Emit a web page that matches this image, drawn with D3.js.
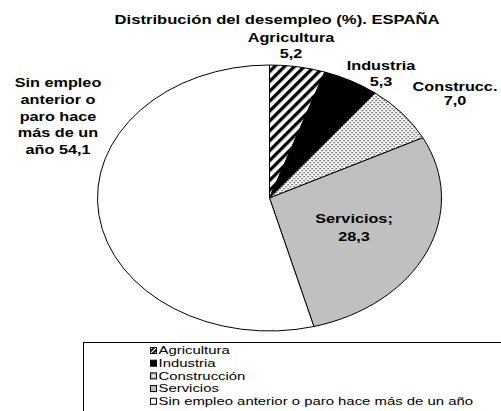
<!DOCTYPE html>
<html>
<head>
<meta charset="utf-8">
<script src="https://cdn.jsdelivr.net/npm/d3@7"></script>
<style>
  body { margin: 0; background: #fff; }
  svg { display: block; font-family: "Liberation Sans", Arial, sans-serif; }
</style>
</head>
<body>
<script>
const categories = ['Agricultura', 'Industria', 'Construcción', 'Servicios', 'Sin empleo anterior o paro hace más de un año'];
const values = [5.2, 5.3, 7.0, 28.3, 54.1];
const sliceLabels = [
    ['Agricultura', '5,2'],
    ['Industria', '5,3'],
    ['Construcc.', '7,0'],
    ['Servicios;', '28,3'],
    ['Sin empleo', 'anterior o', 'paro hace', 'más de un', 'año 54,1']
];
const fills = ['url(#stripes)', '#000000', 'url(#dots)', '#C0C0C0', '#FFFFFF'];

const width = 501;
const height = 411;
const cx = 269.5;
const cy = 198;
const rx = 172;
const ry = 133;
// the original picture is stretched sideways, text included
const stretch = 1.25;

// label anchor positions (centre x, first baseline y, line step, font size)
const labelPos = [
    { x: 291, y: 42, dy: 16, size: 13 },
    { x: 381, y: 70, dy: 16, size: 13 },
    { x: 455, y: 91, dy: 14, size: 12.2 },
    { x: 354, y: 223, dy: 18, size: 13 },
    { x: 58, y: 87, dy: 16.8, size: 13 }
];

const svg = d3.select('body')
  .append('svg')
    .attr('width', width)
    .attr('height', height);

const defs = svg.append('defs');

const stripes = defs.append('pattern')
    .attr('id', 'stripes')
    .attr('patternUnits', 'userSpaceOnUse')
    .attr('width', 7)
    .attr('height', 7)
    .attr('patternTransform', `scale(1, ${rx / ry}) rotate(45)`);
stripes.append('rect').attr('width', 7).attr('height', 7).attr('fill', '#fff');
stripes.append('rect').attr('width', 3.3).attr('height', 7).attr('fill', '#000');

const dots = defs.append('pattern')
    .attr('id', 'dots')
    .attr('patternUnits', 'userSpaceOnUse')
    .attr('width', 4)
    .attr('height', 4)
    .attr('patternTransform', `scale(1, ${rx / ry})`);
dots.append('rect').attr('width', 4).attr('height', 4).attr('fill', '#fff');
dots.append('rect').attr('x', 0).attr('y', 0).attr('width', 1.3).attr('height', 1.3).attr('fill', '#333');
dots.append('rect').attr('x', 2).attr('y', 2).attr('width', 1.3).attr('height', 1.3).attr('fill', '#333');

const legStripes = defs.append('pattern')
    .attr('id', 'legStripes')
    .attr('patternUnits', 'userSpaceOnUse')
    .attr('width', 3)
    .attr('height', 3)
    .attr('patternTransform', 'rotate(45)');
legStripes.append('rect').attr('width', 3).attr('height', 3).attr('fill', '#fff');
legStripes.append('rect').attr('width', 1.8).attr('height', 3).attr('fill', '#000');

// title
svg.append('text')
    .attr('transform', `translate(277, 24) scale(1.28, 1)`)
    .attr('text-anchor', 'middle')
    .style('font-size', '13px')
    .style('font-weight', 'bold')
    .text('Distribución del desempleo (%). ESPAÑA');

// pie
const pie = d3.pie().sort(null).value(d => d);
const arc = d3.arc().innerRadius(0).outerRadius(rx);

const pieGroup = svg.append('g')
    .attr('transform', `translate(${cx}, ${cy}) scale(1, ${ry / rx})`);

pieGroup.selectAll('.slice')
    .data(pie(values))
    .enter()
  .append('path')
    .classed('slice', true)
    .attr('d', arc)
    .attr('fill', (d, i) => fills[i])
    .attr('stroke', '#000')
    .attr('stroke-width', 1)
    .attr('vector-effect', 'non-scaling-stroke')
    .attr('stroke-linejoin', 'round');

// slice labels
const labels = svg.append('g').classed('labels', true);
sliceLabels.forEach((lines, i) => {
    const p = labelPos[i];
    const k = stretch * 13 / p.size;
    const t = labels.append('text')
        .attr('transform', `translate(${p.x}, ${p.y}) scale(${k}, 1)`)
        .attr('text-anchor', 'middle')
        .style('font-size', p.size + 'px')
        .style('font-weight', 'bold');
    lines.forEach((line, j) => {
        t.append('tspan')
            .attr('x', 0)
            .attr('y', j * p.dy)
            .text(line);
    });
});

// legend
const legend = svg.append('g').classed('legend', true);
legend.append('rect')
    .attr('x', 83.5)
    .attr('y', 342.5)
    .attr('width', 430)
    .attr('height', 80)
    .attr('fill', '#fff')
    .attr('stroke', '#000')
    .attr('stroke-width', 1);

const legendFills = ['url(#legStripes)', '#000000', '#C0C0C0', '#C0C0C0', '#FFFFFF'];
const rows = legend.selectAll('.legend-row')
    .data(categories)
    .enter()
  .append('g')
    .classed('legend-row', true)
    .attr('transform', (d, i) => `translate(150, ${350.5 + i * 12.7})`);

rows.append('rect')
    .attr('x', 0.5)
    .attr('y', -3)
    .attr('width', 6)
    .attr('height', 6)
    .attr('fill', (d, i) => legendFills[i])
    .attr('stroke', '#000')
    .attr('stroke-width', 1);

rows.filter((d, i) => i === 2)
  .append('rect')
    .attr('x', 2.5)
    .attr('y', -1)
    .attr('width', 2)
    .attr('height', 2)
    .attr('fill', '#fff');

rows.append('text')
    .attr('transform', `translate(8.5, 3.8) scale(1.42, 1)`)
    .style('font-size', '10.5px')
    .text(d => d);
</script>
</body>
</html>
